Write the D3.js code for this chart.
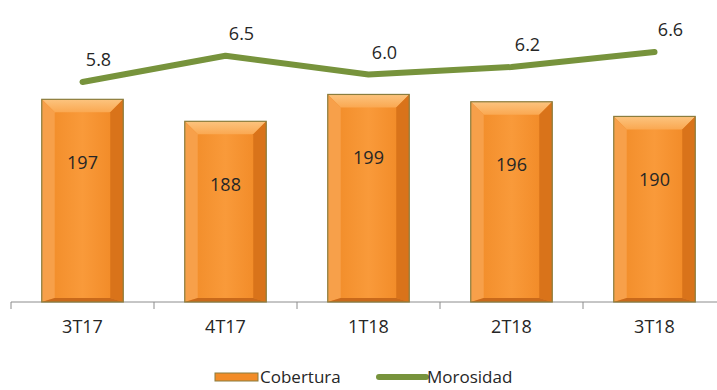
<!DOCTYPE html>
<html>
<head>
<meta charset="utf-8">
<script src="https://cdn.jsdelivr.net/npm/d3@7"></script>
<style>
  body { margin: 0; background: #fff; }
  text { font-family: "Open Sans", "Noto Sans", sans-serif; fill: #262626; }
</style>
</head>
<body>
<div id="chart"></div>
<script>
var periods = ["3T17", "4T17", "1T18", "2T18", "3T18"];
var cobertura = [197, 188, 199, 196, 190];
var morosidad = [5.8, 6.5, 6.0, 6.2, 6.6];
var legendNames = ["Cobertura", "Morosidad"];

var width = 717, height = 390;
var baseY = 302;

var svg = d3.select("#chart").append("svg")
    .attr("width", width)
    .attr("height", height);

var defs = svg.append("defs");
var grad = defs.append("linearGradient").attr("id", "face")
    .attr("x1", 0).attr("y1", 0).attr("x2", 1).attr("y2", 0);
grad.append("stop").attr("offset", "0%").attr("stop-color", "#f08a26");
grad.append("stop").attr("offset", "50%").attr("stop-color", "#f99a3a");
grad.append("stop").attr("offset", "100%").attr("stop-color", "#ef8622");

var topGrad = defs.append("linearGradient").attr("id", "topface")
    .attr("x1", 0).attr("y1", 0).attr("x2", 0).attr("y2", 1);
topGrad.append("stop").attr("offset", "0%").attr("stop-color", "#fcc47f");
topGrad.append("stop").attr("offset", "100%").attr("stop-color", "#faa851");

var x = d3.scaleBand()
    .domain(periods)
    .range([11, 726])
    .paddingInner(0.43)
    .paddingOuter(0.215);

var y = d3.scaleLinear()
    .domain([114, 200])
    .range([baseY, 92]);

var yLine = d3.scaleLinear()
    .domain([5.8, 6.6])
    .range([82, 52]);

// axis
var axis = svg.append("g")
    .attr("transform", "translate(0," + baseY + ")")
    .call(d3.axisBottom(x).tickSize(0).tickPadding(18));
axis.select(".domain").attr("stroke", "#8c8c8c").attr("d", "M11,0H717");
axis.selectAll("text")
    .style("font-size", "18px")
    .style("font-family", "'Open Sans', sans-serif")
    .attr("fill", "#262626");

var bw = x.bandwidth();
var tickXs = periods.map(function (d) { return x(d) - (x.step() - bw) / 2; });
svg.selectAll(".tick-mark")
    .data(tickXs)
    .enter().append("line")
    .attr("x1", function (d) { return d; })
    .attr("x2", function (d) { return d; })
    .attr("y1", baseY)
    .attr("y2", baseY + 7)
    .attr("stroke", "#8c8c8c");

// bars with bevel
var bev = 13;
var bars = svg.selectAll(".bar")
    .data(cobertura)
    .enter().append("g")
    .attr("class", "bar")
    .attr("transform", function (d, i) { return "translate(" + x(periods[i]) + "," + y(d) + ")"; });

bars.append("rect")
    .attr("width", bw)
    .attr("height", function (d) { return baseY - y(d); })
    .attr("fill", "url(#face)");

bars.append("path")
    .attr("d", "M0,0H" + bw + "L" + (bw - bev) + "," + bev + "H" + bev + "Z")
    .attr("fill", "url(#topface)");
bars.append("path")
    .attr("d", function (d) {
        var h = baseY - y(d);
        return "M0,0L" + bev + "," + bev + "V" + (h - 4) + "L0," + h + "Z";
    })
    .attr("fill", "#f7a04a");
bars.append("path")
    .attr("d", function (d) {
        var h = baseY - y(d);
        return "M" + bw + ",0L" + (bw - bev) + "," + bev + "V" + (h - 4) + "L" + bw + "," + h + "Z";
    })
    .attr("fill", "#d9731a");
bars.append("path")
    .attr("d", function (d) {
        var h = baseY - y(d);
        return "M0," + h + "L" + bev + "," + (h - 4) + "H" + (bw - bev) + "L" + bw + "," + h + "Z";
    })
    .attr("fill", "#c9691a");

bars.append("rect")
    .attr("width", bw)
    .attr("height", function (d) { return baseY - y(d); })
    .attr("fill", "none")
    .attr("stroke", "#8a7d3e")
    .attr("stroke-width", 1.2);

bars.append("text")
    .attr("x", bw / 2)
    .attr("y", 63)
    .attr("dy", ".35em")
    .attr("text-anchor", "middle")
    .style("font-size", "18px")
    .text(function (d) { return d; });

// line
var line = d3.line()
    .x(function (d, i) { return x(periods[i]) + bw / 2; })
    .y(function (d) { return yLine(d); });

svg.append("path")
    .datum(morosidad)
    .attr("d", line)
    .attr("fill", "none")
    .attr("stroke", "#77933c")
    .attr("stroke-width", 6)
    .attr("stroke-linecap", "round")
    .attr("stroke-linejoin", "round");

svg.selectAll(".mlabel")
    .data(morosidad)
    .enter().append("text")
    .attr("x", function (d, i) { return x(periods[i]) + bw / 2 + 16; })
    .attr("y", function (d) { return yLine(d) - 22; })
    .attr("dy", ".35em")
    .attr("text-anchor", "middle")
    .style("font-size", "18px")
    .text(function (d) { return d.toFixed(1); });

// legend
var lg = svg.append("g").attr("transform", "translate(215,373)");
lg.append("rect")
    .attr("width", 43).attr("height", 8)
    .attr("fill", "#f28c28")
    .attr("stroke", "#8a7d3e");
lg.append("text")
    .attr("x", 45).attr("y", 4).attr("dy", ".35em")
    .style("font-size", "17px")
    .text(legendNames[0]);
lg.append("line")
    .attr("x1", 164).attr("x2", 211)
    .attr("y1", 4).attr("y2", 4)
    .attr("stroke", "#77933c")
    .attr("stroke-width", 6)
    .attr("stroke-linecap", "round");
lg.append("text")
    .attr("x", 212).attr("y", 4).attr("dy", ".35em")
    .style("font-size", "17px")
    .text(legendNames[1]);
</script>
</body>
</html>
